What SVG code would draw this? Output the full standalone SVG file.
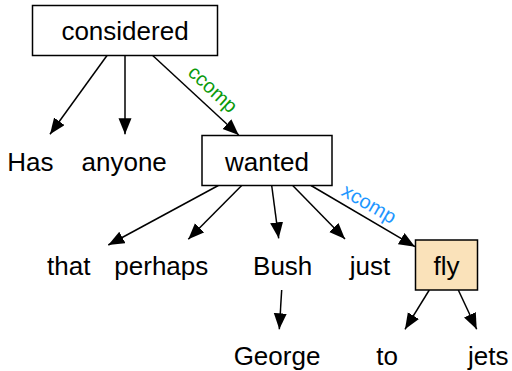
<svg xmlns="http://www.w3.org/2000/svg" width="512" height="371" viewBox="0 0 512 371">
<style>
text{font-family:"Liberation Sans",Arial,Helvetica,sans-serif;font-size:26px;fill:#000;text-anchor:middle}
.box{fill:#fff;stroke:#000;stroke-width:1.5}
.head{fill:#fae2ba;stroke:#000;stroke-width:1.5}
.edge{stroke:#000;stroke-width:1.5;fill:none;marker-end:url(#arr)}
.lbl{font-size:20px}
.ccomp{fill:#0a9a0a}
.xcomp{fill:#1e96ff}
</style>
<defs>
<marker id="arr" markerUnits="userSpaceOnUse" markerWidth="18" markerHeight="14" refX="16" refY="6.5" orient="auto">
<path d="M0,0 L16,6.5 L0,13 z" fill="#000"/>
</marker>
</defs>
<rect width="512" height="371" fill="#fff"/>
<g id="connectors">
<line class="edge" x1="107" y1="55.5" x2="50" y2="134.3"/>
<line class="edge" x1="125" y1="55.5" x2="125" y2="134.3"/>
<line class="edge" x1="152.7" y1="55.5" x2="238.7" y2="135"/>
<line class="edge" x1="218.3" y1="185.5" x2="108.3" y2="245"/>
<line class="edge" x1="241.7" y1="185.5" x2="188.3" y2="239.3"/>
<line class="edge" x1="271.7" y1="185.5" x2="278.7" y2="238.3"/>
<line class="edge" x1="292.7" y1="185.5" x2="345" y2="239"/>
<line class="edge" x1="311" y1="185.5" x2="415" y2="246.7"/>
<line class="edge" x1="281.7" y1="290" x2="279.3" y2="329.3"/>
<line class="edge" x1="429.3" y1="290" x2="405" y2="329.3"/>
<line class="edge" x1="458.3" y1="290" x2="476.7" y2="329.3"/>
<text class="lbl ccomp" transform="translate(208.3,94) rotate(42.7)">ccomp</text>
<text class="lbl xcomp" transform="translate(365.8,209.5) rotate(30)">xcomp</text>
</g>
<g id="considered">
<rect class="box" x="32.5" y="5.5" width="185" height="50"/>
<text x="125" y="39.5">considered</text>
</g>
<g id="Has"><text x="30.3" y="171">Has</text></g>
<g id="anyone"><text x="124.2" y="171">anyone</text></g>
<g id="wanted">
<rect class="box" x="202" y="135.5" width="130" height="50"/>
<text x="267" y="171">wanted</text>
</g>
<g id="that"><text x="68.8" y="275">that</text></g>
<g id="perhaps"><text x="161.3" y="275">perhaps</text></g>
<g id="Bush"><text x="282.7" y="275">Bush</text></g>
<g id="just"><text x="370" y="275">just</text></g>
<g id="fly">
<rect class="head" x="415.5" y="240" width="62" height="50"/>
<text x="446.5" y="275">fly</text>
</g>
<g id="George"><text x="277" y="365">George</text></g>
<g id="to"><text x="387" y="365">to</text></g>
<g id="jets"><text x="488.3" y="365">jets</text></g>
</svg>
